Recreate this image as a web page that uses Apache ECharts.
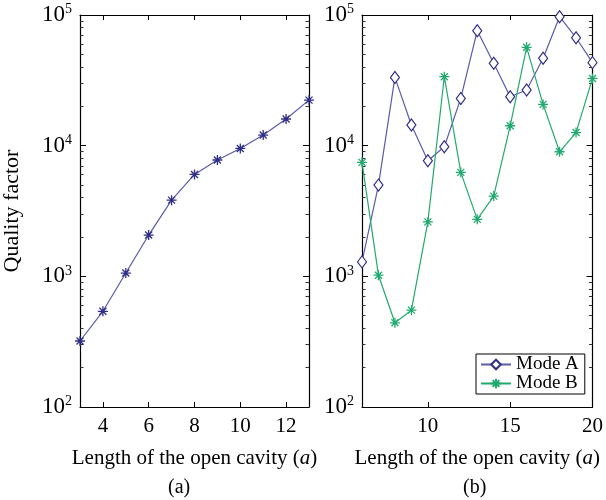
<!DOCTYPE html>
<html>
<head>
<meta charset="utf-8">
<script src="https://cdn.jsdelivr.net/npm/echarts@6/dist/echarts.min.js"></script>
<style>html,body{margin:0;padding:0;background:#fff}#c{width:606px;height:500px}</style>
</head>
<body>
<div id="c"></div>
<script>
// ---- data ----
const lengthsA = [3, 4, 5, 6, 7, 8, 9, 10, 11, 12, 13];
const qualityA = [320, 540, 1060, 2070, 3830, 6020, 7770, 9520, 12050, 16000, 22300];
const lengthsB = [6, 7, 8, 9, 10, 11, 12, 13, 14, 15, 16, 17, 18, 19, 20];
const modeA = [1290, 4990, 33300, 14400, 7660, 9820, 23000, 75900, 42700, 23700, 26700, 46600, 97000, 67000, 43200];
const modeB = [7450, 1020, 441, 551, 2610, 33700, 6250, 2730, 4110, 14200, 56600, 20700, 8980, 12600, 32700];
const xTicksA = [4, 6, 8, 10, 12];
const xTicksB = [10, 15, 20];
const seriesNames = ['Mode A', 'Mode B'];
const xTitle = 'Length of the open cavity';
const yTitle = 'Quality factor';
const panelLabels = ['(a)', '(b)'];

// ---- helpers ----
const FONT = '"Liberation Serif", "DejaVu Serif", serif';
const minorLog = [];
for (let e = 2; e < 5; e++) for (let k = 2; k <= 9; k++) minorLog.push(e + Math.log10(k));
const asterisk = 'path://M0,-5L0,5M-5,0L5,0M-3.5,-3.5L3.5,3.5M-3.5,3.5L3.5,-3.5';
const zip = (xs, ys) => xs.map((x, i) => [x, ys[i]]);
const blueLine = '#5a5aae', blueMark = '#2e2e86', green = '#22aa6e';

function xAxes(grid, min, max, ticks, showName) {
  const base = {type: 'value', gridIndex: grid, min, max,
    axisLine: {show: true, onZero: false, lineStyle: {color: '#000', width: 1.2}},
    splitLine: {show: false}};
  return [
    Object.assign({}, base, {position: 'bottom',
      axisTick: {show: true, inside: true, length: 5, customValues: ticks, lineStyle: {color: '#000'}},
      axisLabel: {customValues: ticks, color: '#000', fontFamily: FONT, fontSize: 21, margin: 9},
      name: showName ? '{t|' + xTitle + ' (}{i|a}{t|)}' : '', nameLocation: 'middle', nameGap: 41,
      nameTextStyle: {rich: {t: {fontFamily: FONT, fontSize: 21, color: '#000'}, i: {fontFamily: FONT, fontSize: 21, fontStyle: 'italic', color: '#000'}}}}),
    Object.assign({}, base, {position: 'top',
      axisTick: {show: true, inside: true, length: 5, customValues: ticks, lineStyle: {color: '#000'}},
      axisLabel: {show: false}})
  ];
}
function yAxes(grid, withName) {
  const logBase = {type: 'log', logBase: 10, gridIndex: grid, min: 100, max: 100000,
    axisLine: {show: true, onZero: false, lineStyle: {color: '#000', width: 1.2}},
    splitLine: {show: false}, minorTick: {show: false}};
  const minorBase = {type: 'value', gridIndex: grid, min: 2, max: 5,
    axisLine: {show: false}, splitLine: {show: false}, axisLabel: {show: false},
    axisTick: {show: true, inside: true, length: 3.5, customValues: minorLog, lineStyle: {color: '#333', width: 1}}};
  return [
    Object.assign({}, logBase, {position: 'left',
      axisTick: {show: true, inside: true, length: 6, lineStyle: {color: '#000'}},
      axisLabel: {color: '#000', margin: 8,
        formatter: v => '{b|10}{s|' + Math.round(Math.log10(v)) + '}',
        rich: {b: {fontFamily: FONT, fontSize: 23, color: '#000'}, s: {fontFamily: FONT, fontSize: 14, color: '#000', verticalAlign: 'top', padding: [0, 0, 11, 0]}}},
      name: withName ? yTitle : '', nameLocation: 'middle', nameGap: 57,
      nameTextStyle: {fontFamily: FONT, fontSize: 22, color: '#000'}}),
    Object.assign({}, logBase, {position: 'right',
      axisTick: {show: true, inside: true, length: 6, lineStyle: {color: '#000'}},
      axisLabel: {show: false}}),
    Object.assign({}, minorBase, {position: 'left'}),
    Object.assign({}, minorBase, {position: 'right'})
  ];
}

const option = {
  animation: false,
  backgroundColor: '#fff',
  grid: [
    {left: 76, top: 15, width: 233, height: 392},
    {left: 362, top: 15, width: 233, height: 392}
  ],
  xAxis: [].concat(xAxes(0, 3, 13, xTicksA, true), xAxes(1, 6, 20, xTicksB, true)),
  yAxis: [].concat(yAxes(0, true), yAxes(1, false)),
  legend: {
    data: seriesNames, orient: 'vertical', left: 476, top: 354,
    backgroundColor: '#fff', borderColor: '#000', borderWidth: 1, padding: [1, 6, 1, 4],
    itemGap: 0, itemWidth: 30, itemHeight: 12,
    textStyle: {fontFamily: FONT, fontSize: 19, color: '#000'}
  },
  graphic: [
    {type: 'text', left: 168, top: 478, style: {text: panelLabels[0], font: '20px ' + FONT, fill: '#000'}},
    {type: 'text', left: 463, top: 478, style: {text: panelLabels[1], font: '20px ' + FONT, fill: '#000'}}
  ],
  series: [
    {type: 'line', name: 'single', xAxisIndex: 0, yAxisIndex: 0, data: zip(lengthsA, qualityA),
      symbol: asterisk, symbolSize: 10, lineStyle: {color: blueLine, width: 1.2},
      itemStyle: {color: blueMark, borderColor: blueMark, borderWidth: 1.3}},
    {type: 'line', name: seriesNames[0], xAxisIndex: 2, yAxisIndex: 4, data: zip(lengthsB, modeA),
      symbol: 'diamond', symbolSize: [9, 12], showAllSymbol: true, lineStyle: {color: blueLine, width: 1.2},
      itemStyle: {color: '#fff', borderColor: blueMark, borderWidth: 1.2}},
    {type: 'line', name: seriesNames[1], xAxisIndex: 2, yAxisIndex: 4, data: zip(lengthsB, modeB),
      symbol: asterisk, symbolSize: 10, showAllSymbol: true, lineStyle: {color: green, width: 1.2},
      itemStyle: {color: green, borderColor: green, borderWidth: 1.3}}
  ]
};
const chart = echarts.init(document.getElementById('c'), null, {renderer: 'canvas'});
chart.setOption(option);
</script>
</body>
</html>
